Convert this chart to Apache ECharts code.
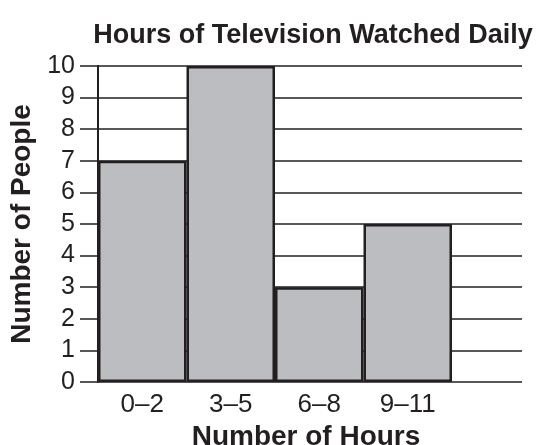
<!DOCTYPE html>
<html>
<head>
<meta charset="utf-8">
<script src="https://cdn.jsdelivr.net/npm/echarts@6/dist/echarts.min.js"></script>
<style>
  html, body { margin: 0; padding: 0; background: #fff; }
  #chart { width: 539px; height: 445px; }
</style>
</head>
<body>
<div id="chart"></div>
<script>
// data
var hourRanges = ['0\u20132', '3\u20135', '6\u20138', '9\u201311'];
var peopleCounts = [7, 10, 3, 5];
var yTicks = [0, 10, 1]; // min, max, interval

var ink = '#231f20';
var font = "'Liberation Sans', Arial, Helvetica, sans-serif";

var myChart = echarts.init(document.getElementById('chart'));

var option = {
  animation: false,
  title: {
    text: 'Hours of Television Watched Daily',
    left: 308,
    textAlign: 'center',
    top: 17,
    textStyle: { fontFamily: font, fontSize: 27, fontWeight: 'bold', color: ink }
  },
  grid: [
    // bars
    { left: 98, top: 66, width: 354, height: 316, containLabel: false, outerBoundsMode: 'none' },
    // wider grid just for the horizontal rules
    { left: 98, top: 66, width: 424, height: 316, containLabel: false, outerBoundsMode: 'none' }
  ],
  xAxis: [
    {
      type: 'category',
      gridIndex: 0,
      data: hourRanges,
      name: 'Number of Hours',
      nameLocation: 'middle',
      nameGap: 35,
      nameTextStyle: { fontFamily: font, fontSize: 28, fontWeight: 'bold', color: ink, padding: [0, 0, 0, 62] },
      axisLine: { show: false },
      axisTick: { show: false },
      axisLabel: { margin: 10, fontFamily: font, fontSize: 26, color: ink }
    },
    { type: 'value', gridIndex: 1, show: false }
  ],
  yAxis: [
    {
      type: 'value',
      gridIndex: 0,
      min: yTicks[0],
      max: yTicks[1],
      interval: yTicks[2],
      name: 'Number of People',
      nameLocation: 'middle',
      nameGap: 62,
      nameTextStyle: { fontFamily: font, fontSize: 28, fontWeight: 'bold', color: ink },
      axisLine: { show: true, lineStyle: { color: ink, width: 2 } },
      axisTick: { show: true, inside: false, length: 18, lineStyle: { color: ink, width: 1.5 } },
      axisLabel: { margin: 23, fontFamily: font, fontSize: 25, color: ink },
      splitLine: { show: false }
    },
    {
      type: 'value',
      gridIndex: 1,
      min: yTicks[0],
      max: yTicks[1],
      interval: yTicks[2],
      axisLine: { show: false },
      axisTick: { show: false },
      axisLabel: { show: false },
      splitLine: { show: true, lineStyle: { color: ink, width: 1.5 } }
    }
  ],
  series: [
    {
      name: 'People',
      type: 'bar',
      xAxisIndex: 0,
      yAxisIndex: 0,
      barWidth: '100%',
      barCategoryGap: 0,
      z: 5,
      itemStyle: { color: '#bcbdc0', borderColor: ink, borderWidth: 2.5 },
      data: peopleCounts
    }
  ]
};

myChart.setOption(option);
</script>
</body>
</html>
